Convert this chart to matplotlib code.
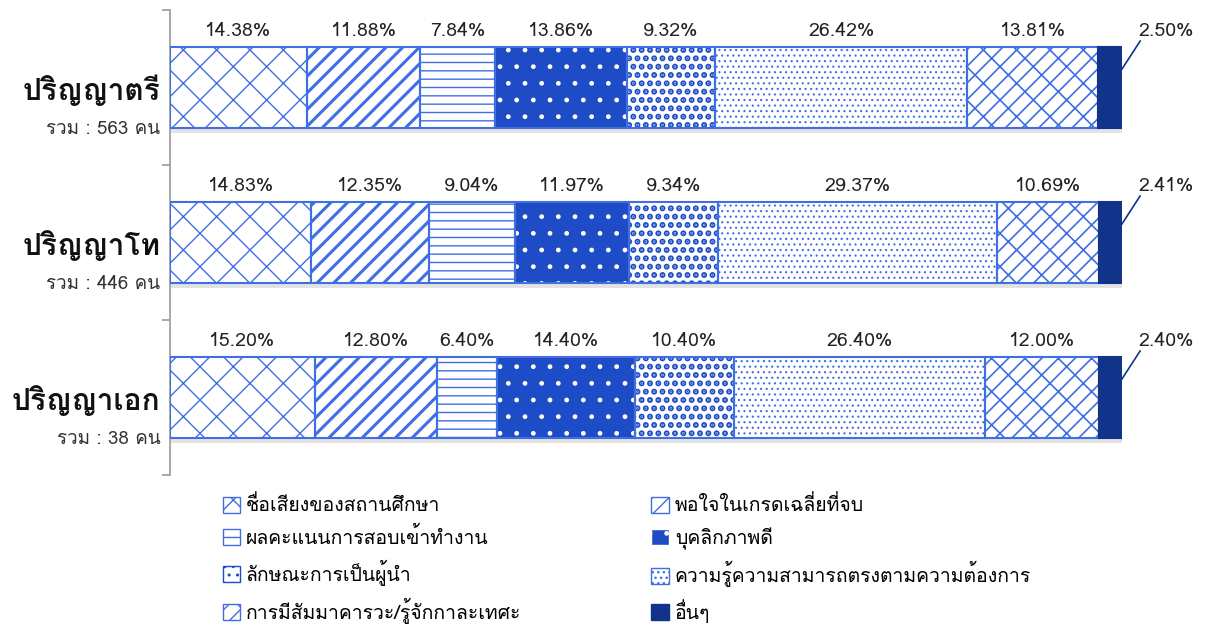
import matplotlib
matplotlib.use('Agg')
import matplotlib.pyplot as plt
import numpy as np
from matplotlib import font_manager
from matplotlib.ft2font import FT2Font
from matplotlib.patches import Patch


def find_thai_font():
    # look for any installed family that covers the Thai block
    for f in font_manager.fontManager.ttflist:
        try:
            if 0x0E1B in FT2Font(f.fname).get_charmap():
                return f.name
        except Exception:
            pass
    return None


thai = find_thai_font()
families = [thai, 'DejaVu Sans'] if thai else ['DejaVu Sans']
plt.rcParams['font.family'] = families

# data
groups = ['ปริญญาตรี', 'ปริญญาโท', 'ปริญญาเอก']
totals = ['รวม : 563 คน', 'รวม : 446 คน', 'รวม : 38 คน']
reasons = ['ชื่อเสียงของสถานศึกษา', 'พอใจในเกรดเฉลี่ยที่จบ', 'ผลคะแนนการสอบเข้าทำงาน',
           'บุคลิกภาพดี', 'ลักษณะการเป็นผู้นำ', 'ความรู้ความสามารถตรงตามความต้องการ',
           'การมีสัมมาคารวะ/รู้จักกาละเทศะ', 'อื่นๆ']
bachelor = [14.38, 11.88, 7.84, 13.86, 9.32, 26.42, 13.81, 2.50]
master = [14.83, 12.35, 9.04, 11.97, 9.34, 29.37, 10.69, 2.41]
doctor = [15.20, 12.80, 6.40, 14.40, 10.40, 26.40, 12.00, 2.40]
values = np.array([bachelor, master, doctor])

blue = '#3f6fe3'
dark = '#1d4cc6'
navy = '#12338a'
# (facecolor, hatch, hatch colour, hatch linewidth)
styles = [
    ('white', 'x', blue, 1.0),
    ('white', '//', blue, 2.2),
    ('white', '--', blue, 1.0),
    (dark, '.', 'white', 1.0),
    ('white', '..', dark, 3.0),
    ('white', '...', blue, 0.8),
    ('white', 'x/', blue, 1.2),
    (navy, None, navy, 1.0),
]

fig = plt.figure(figsize=(12.07, 6.28), dpi=100)
ax = fig.add_axes([170 / 1207, 1 - 475 / 628, 952 / 1207, 465 / 628])

ypos = np.arange(len(groups))
bar_h = 0.52
lab_y = ypos - bar_h / 2 - 0.105
left = np.zeros(len(groups))
for i, (fc, hatch, hc, hlw) in enumerate(styles):
    # soft shadow under the bar
    ax.barh(ypos + 0.035, values[:, i], left=left + 0.15, height=bar_h,
            color='#c8c8c8', alpha=0.5, linewidth=0, zorder=1)
    with plt.rc_context({'hatch.linewidth': hlw}):
        ax.barh(ypos, values[:, i], left=left, height=bar_h, color=fc,
                hatch=hatch, edgecolor=hc, linewidth=0, zorder=2)
    ax.barh(ypos, values[:, i], left=left, height=bar_h, fill=False,
            edgecolor=blue if i < 7 else navy, linewidth=1.5, zorder=3)
    for j in range(len(groups)):
        v = values[j, i]
        if i < 7:
            ax.text(left[j] + v / 2, lab_y[j], f'{v:.2f}%',
                    ha='center', va='center', fontsize=14, color='#222222')
        else:
            x_end = left[j] + v
            ax.plot([x_end, x_end + 1.9], [ypos[j] - 0.12, ypos[j] - 0.30],
                    color=navy, linewidth=1.2, clip_on=False, zorder=4)
            ax.text(x_end + 4.6, lab_y[j], f'{v:.2f}%',
                    ha='center', va='center', fontsize=14, color='#222222')
    left += values[:, i]

ax.set_xlim(0, 100)
ax.set_ylim(2.5, -0.5)
ax.set_xticks([])
ax.set_yticks([-0.5, 0.5, 1.5, 2.5])
ax.set_yticklabels([])
ax.tick_params(axis='y', length=6, color='#999999', width=1.2)
for s in ['top', 'right', 'bottom']:
    ax.spines[s].set_visible(False)
ax.spines['left'].set_color('#999999')
ax.spines['left'].set_linewidth(1.2)

for j in range(len(groups)):
    ax.text(-1.0, ypos[j] + 0.02, groups[j], ha='right', va='center',
            fontsize=21.5, fontweight='bold', color='#111111')
    ax.text(-1.0, ypos[j] + 0.27, totals[j], ha='right', va='center',
            fontsize=13.5, color='#333333')

handles = []
for i, (fc, hatch, hc, hlw) in enumerate(styles):
    with plt.rc_context({'hatch.linewidth': hlw}):
        handles.append(Patch(facecolor=fc, hatch=hatch, edgecolor=hc if i != 7 else navy,
                             label=reasons[i]))
order = [0, 2, 4, 6, 1, 3, 5, 7]
fig.legend([handles[k] for k in order], [reasons[k] for k in order],
           ncol=2, loc='upper left', bbox_to_anchor=(205 / 1207, 1 - 478 / 628),
           frameon=False, fontsize=14, handlelength=0.9, handleheight=0.9,
           handletextpad=0.3, labelspacing=0.6, columnspacing=6.7)

fig.savefig('out.png', dpi=100)
